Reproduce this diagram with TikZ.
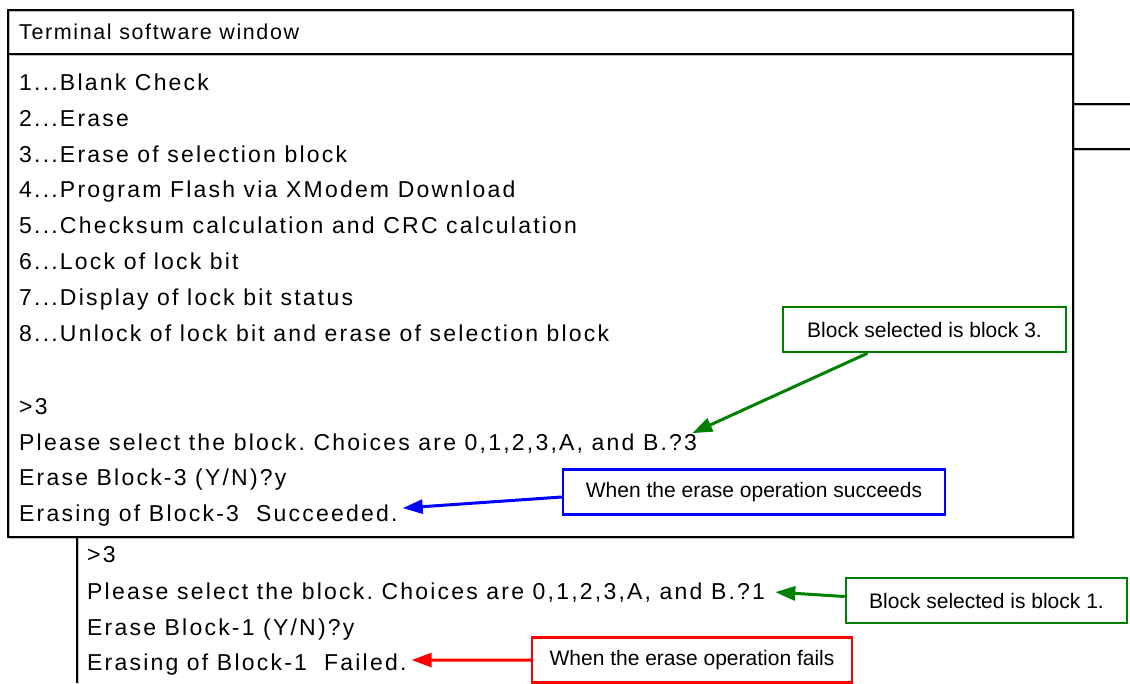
\documentclass[tikz,border=0pt]{standalone}
\usepackage{fontspec}
\setmainfont{Liberation Sans}
\newfontfamily\termfont[LetterSpace=9.6]{Liberation Sans}
\newfontfamily\titlefont[LetterSpace=7.5]{Liberation Sans}
\usetikzlibrary{arrows.meta}
\definecolor{calloutgreen}{RGB}{0,128,0}
\definecolor{calloutblue}{RGB}{0,0,255}
\definecolor{calloutred}{RGB}{255,0,0}
\definecolor{shade}{RGB}{190,190,190}
\frenchspacing
\tikzset{
  frame/.style={draw=black, line width=1.8pt},
  frameshade/.style={draw=shade, line width=1.8pt},
  termline/.style={anchor=base west, inner sep=0pt, font=\termfont\fontsize{23}{27}\selectfont},
  titleline/.style={anchor=base west, inner sep=0pt, font=\titlefont\fontsize{21.5}{25}\selectfont},
  callout/.style={draw=#1, line width=2.5pt, fill=white, inner sep=0pt,
    minimum height=45pt, font=\fontsize{21}{25}\selectfont, text=black},
  pointer/.style={draw=#1, line width=3pt, -{Triangle[length=20pt,width=14pt]}},
}
\begin{document}
\begin{tikzpicture}[x=1pt,y=-1pt]
\useasboundingbox (0,0) rectangle (1130,683);

% window frame with a faint shadow
\begin{scope}[shift={(1.5,1.5)}]
  \draw[frameshade] (8,10) rectangle (1073,537);
  \draw[frameshade] (8,54) -- (1073,54);
  \draw[frameshade] (1073,104) -- (1130,104);
  \draw[frameshade] (1073,149) -- (1130,149);
  \draw[frameshade] (77,537) -- (77,683);
\end{scope}
\draw[frame] (8,10) rectangle (1073,537);
\draw[frame] (8,54) -- (1073,54);
\draw[frame] (1073,104) -- (1130,104);
\draw[frame] (1073,149) -- (1130,149);
\draw[frame] (77,537) -- (77,683);

\node[titleline] (title) at (19,39.5) {Terminal software window};

% menu
\node[termline] (l1) at (19,90) {1...Blank Check};
\node[termline] (l2) at (19,126) {2...Erase};
\node[termline] (l3) at (19,162) {3...Erase of selection block};
\node[termline] (l4) at (19,197) {4...Program Flash via XModem Download};
\node[termline] (l5) at (19,233) {5...Checksum calculation and CRC calculation};
\node[termline] (l6) at (19,269) {6...Lock of lock bit};
\node[termline] (l7) at (19,305) {7...Display of lock bit status};
\node[termline] (l8) at (19,341) {8...Unlock of lock bit and erase of selection block};

% first session
\node[termline] (l9) at (19,414) {>3};
\node[termline] (l10) at (19,450) {Please select the block. Choices are 0,1,2,3,A, and B.?3};
\node[termline] (l11) at (19,485) {Erase Block-3 (Y/N)?y};
\node[termline] (l12) at (19,521) {Erasing of Block-3\ \ Succeeded.};

% second session
\node[termline] (m1) at (87,562) {>3};
\node[termline] (m2) at (87,599) {Please select the block. Choices are 0,1,2,3,A, and B.?1};
\node[termline] (m3) at (87,635) {Erase Block-1 (Y/N)?y};
\node[termline] (m4) at (87,670) {Erasing of Block-1\ \ Failed.};

% callouts
\node[callout=calloutgreen, minimum width=283pt] (c1) at (924.5,329.5) {Block selected is block 3.};
\node[callout=calloutblue, minimum width=382pt] (c2) at (754,492) {When the erase operation succeeds};
\node[callout=calloutgreen, minimum width=281pt] (c3) at (986.5,600.5) {Block selected is block 1.};
\node[callout=calloutred, minimum width=320pt] (c4) at (692,660) {When the erase operation fails};

\draw[pointer=calloutgreen] ([xshift=-57pt]c1.south) -- ([xshift=-5pt,yshift=0pt]l10.north east);
\draw[pointer=calloutblue] ([yshift=-5pt]c2.west) -- ([xshift=5pt,yshift=7pt]l12.east);
\draw[pointer=calloutgreen] ([yshift=4pt]c3.west) -- ([xshift=10pt,yshift=0pt]m2.east);
\draw[pointer=calloutred] (c4.west) -- ([xshift=5pt,yshift=4pt]m4.east);
\end{tikzpicture}
\end{document}
